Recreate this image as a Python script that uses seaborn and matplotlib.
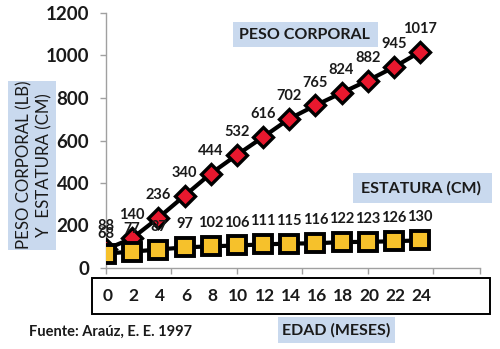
import matplotlib
matplotlib.use("Agg")
import matplotlib.pyplot as plt
import matplotlib.patches as mpatches
import seaborn as sns
import pandas as pd

edad = [0, 2, 4, 6, 8, 10, 12, 14, 16, 18, 20, 22, 24]
peso = [88, 140, 236, 340, 444, 532, 616, 702, 765, 824, 882, 945, 1017]
estatura = [68, 77, 87, 97, 102, 106, 111, 115, 116, 122, 123, 126, 130]
yticks = [0, 200, 400, 600, 800, 1000, 1200]

sns.set_theme(style="white")
plt.rcParams['font.family'] = ['Lato', 'DejaVu Sans']

W, H = 500, 349
fig = plt.figure(figsize=(W / 100, H / 100), dpi=100)

def fx(x):
    return x / W

def fy(y):
    return 1 - y / H

ax = fig.add_axes([fx(106), fy(268), fx(480) - fx(106), fy(13) - fy(268)])

df = pd.DataFrame({"pos": list(range(len(edad))), "peso": peso, "estatura": estatura})

sns.lineplot(data=df, x="pos", y="peso", ax=ax, color="black", linewidth=3.0,
             marker="D", markersize=10, markerfacecolor="#e8182e",
             markeredgecolor="black", markeredgewidth=2.4, zorder=3)
sns.lineplot(data=df, x="pos", y="estatura", ax=ax, color="black", linewidth=3.0,
             marker="s", markersize=12.5, markerfacecolor="#f6c12b",
             markeredgecolor="black", markeredgewidth=2.8, zorder=4)

for i, v in enumerate(peso):
    ax.annotate(str(v), (i, v), xytext=(0, 16.5), textcoords="offset points",
                ha="center", va="center", fontsize=10.5, fontweight="bold", color="#1a1a1a")
for i, v in enumerate(estatura):
    off = 14.0 if i == 0 else 16.5
    ax.annotate(str(v), (i, v), xytext=(0, off), textcoords="offset points",
                ha="center", va="center", fontsize=10.5, fontweight="bold", color="#1a1a1a")

ax.set_xlim(0, 14.29)
ax.set_ylim(0, 1200)
ax.set_yticks(yticks)
ax.set_yticklabels([str(t) for t in yticks], fontsize=13.5, fontweight="bold", color="#1a1a1a")
ax.set_xticks([0, 2.5, 5, 7.5, 10, 12.5, 14.29])
ax.set_xticklabels([])
ax.set_xlabel("")
ax.set_ylabel("")
for s in ["top", "right"]:
    ax.spines[s].set_visible(False)
for s in ["left", "bottom"]:
    ax.spines[s].set_color("#a0a0a0")
    ax.spines[s].set_linewidth(1.0)
ax.tick_params(axis="both", which="both", direction="out", length=4, width=1,
               color="#a0a0a0", left=True, bottom=True, pad=8)
ax.patch.set_alpha(0)

blue = "#c9d9ee"

def box(x0, y0, x1, y1, fc, ec="none", lw=0):
    fig.patches.append(mpatches.Rectangle((fx(x0), fy(y1)), fx(x1) - fx(x0), fy(y0) - fy(y1),
                                          transform=fig.transFigure, facecolor=fc,
                                          edgecolor=ec, linewidth=lw, zorder=0))

# x tick label box
box(92, 278, 490, 314, "white", ec="black", lw=1.4)
for i, e in enumerate(edad):
    xd = ax.transData.transform((i, 0))[0]
    xfig = fig.transFigure.inverted().transform((xd, 0))[0]
    fig.text(xfig + 1.5 / W, fy(296), str(e), ha="center", va="center", fontsize=12.5,
             fontweight="bold", color="#1a1a1a")

# PESO CORPORAL box
box(233, 22, 378, 47, blue)
fig.text(fx(304), fy(35), "PESO CORPORAL", ha="center", va="center", fontsize=11.5,
         fontweight="bold", color="#1a1a1a")
# ESTATURA box
box(353, 173, 492, 203, blue)
fig.text(fx(421), fy(188), "ESTATURA (CM)", ha="center", va="center", fontsize=11.5,
         fontweight="bold", color="#1a1a1a")
# EDAD box
box(278, 317, 395, 343, blue)
fig.text(fx(336), fy(330), "EDAD (MESES)", ha="center", va="center", fontsize=11.5,
         fontweight="bold", color="#1a1a1a")
# Y label box
box(8, 81, 56, 250, blue)
fig.text(fx(24), fy(165), "PESO CORPORAL (LB)", ha="center", va="center",
         rotation=90, rotation_mode="anchor", fontsize=12.2, color="#1a1a1a")
fig.text(fx(44), fy(165), "Y  ESTATURA (CM)", ha="center", va="center",
         rotation=90, rotation_mode="anchor", fontsize=12.2, color="#1a1a1a")

fig.text(fx(29), fy(332), "Fuente: Araúz, E. E. 1997", ha="left", va="center", fontsize=10.5,
         fontweight="bold", color="#1a1a1a")

fig.savefig("out.png", dpi=100)
